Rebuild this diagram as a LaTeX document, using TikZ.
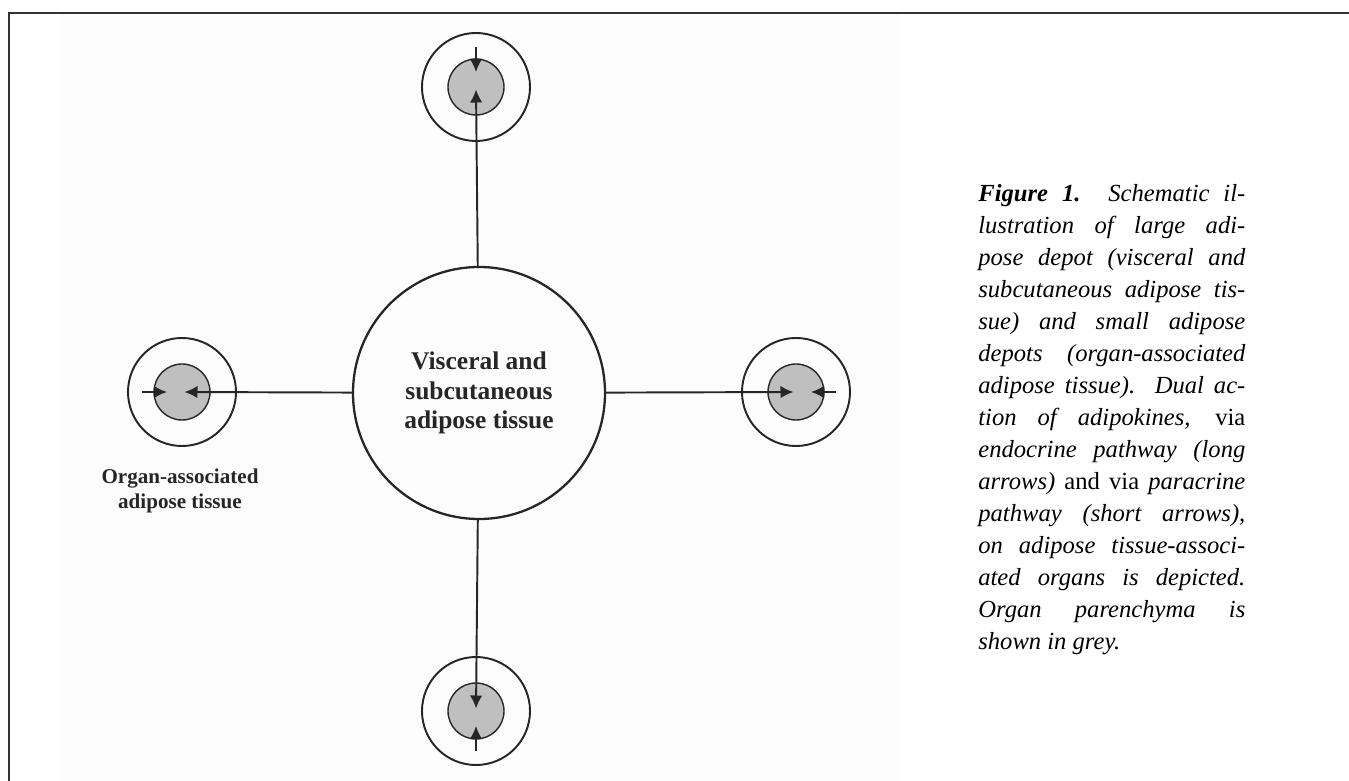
\documentclass[tikz,border=0pt]{standalone}
\usepackage{fontspec}
\setmainfont{Liberation Serif}
\usetikzlibrary{arrows.meta}

\begin{document}
\begin{tikzpicture}[x=0.2mm,y=-0.2mm,
  depot/.style={circle,draw=black!85,line width=1.3pt,minimum size=50.4mm,inner sep=0pt,
    align=center,text=black!85,font=\fontsize{14.5}{17}\selectfont\bfseries},
  organ/.style={circle,draw=black!85,line width=1.1pt,minimum size=21.6mm,inner sep=0pt},
  parench/.style={circle,draw=black!85,fill=black!25,line width=0.8pt,minimum size=11.2mm,inner sep=0pt},
  endo/.style={draw=black!85,line width=1.1pt,-{Latex[length=2.6mm,width=2.5mm]},shorten >=0.5mm},
  para/.style={draw=black!85,line width=1.1pt,-{Latex[length=2.6mm,width=2.5mm]}},
  lbl/.style={align=center,text=black!85,font=\fontsize{12}{14.5}\selectfont\bfseries},
  caption/.style={text width=53.4mm,align=justify,inner sep=0pt,font=\fontsize{14}{18.2}\selectfont\itshape}]
\useasboundingbox (0,0) rectangle (1349,781);
% frame and figure background
\fill[black!1] (60,14) rectangle (900,781);
\draw[black!80,line width=1.2pt] (1349,13) -- (9,13) -- (9,781);

% large depot
\node[depot] (vat) at (479,393) {Visceral and\\subcutaneous\\adipose tissue};

% small depots round the organs
\foreach \n/\x/\y in {top/476/87, left/182/392, right/796/392, bot/476/711} {
  \node[organ] (\n) at (\x,\y) {};
  \node[parench] (\n p) at (\n) {};
}
\node[lbl] (lab) at (180,491) {Organ-associated\\adipose tissue};

% endocrine pathway (long arrows)
\draw[endo] (vat) -- (top.center);
\draw[endo] (vat) -- (left.center);
\draw[endo] (vat) -- (right.center);
\draw[endo] (vat) -- (bot.center);

% paracrine pathway (short arrows)
\draw[para] ([yshift=8mm]top.center) -- ([yshift=3mm]top.center);
\draw[para] ([xshift=-8mm]left.center) -- ([xshift=-3mm]left.center);
\draw[para] ([xshift=8mm]right.center) -- ([xshift=3mm]right.center);
\draw[para] ([yshift=-8mm]bot.center) -- ([yshift=-3mm]bot.center);

% caption
\node[caption,anchor=north west] (cap) at (978,184) {\hyphenpenalty=10000 \exhyphenpenalty=10000 \tolerance=10000
\textbf{Figure 1.}\ \ Schematic il-\linebreak
lustration of large adi-\linebreak
pose depot (visceral and\linebreak
subcutaneous adipose tis-\linebreak
sue) and small adipose\linebreak
depots (organ-associated\linebreak
adipose tissue). Dual ac-\linebreak
tion of adipokines, \textup{via}\linebreak
endocrine pathway (long\linebreak
arrows) \textup{and via} paracrine\linebreak
pathway (short arrows),\linebreak
on adipose tissue-associ-\linebreak
ated organs is depicted.\linebreak
Organ parenchyma is\linebreak
shown in grey.};
\end{tikzpicture}
\end{document}
